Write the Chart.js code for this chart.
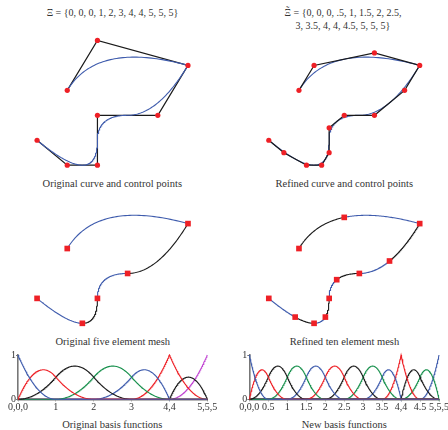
<!DOCTYPE html>
<html><head><meta charset="utf-8">
<script src="https://cdn.jsdelivr.net/npm/chart.js@4.4.1/dist/chart.umd.min.js"></script>
<style>
html,body{margin:0;padding:0;width:448px;height:430px;overflow:hidden;background:#fff;}
body{position:relative;font-family:'Liberation Serif','Times New Roman',serif;color:#333;}
canvas{position:absolute;}
.t{position:absolute;font-size:10.5px;text-align:center;white-space:nowrap;line-height:12.5px;transform:translate(-50%,-50%);}
.h{font-size:10px;}
.tx{position:relative;display:inline-block;}
.tx .tl{position:absolute;left:0;right:0;top:-2px;text-align:center;font-size:10px;}
</style></head><body>
<div class="t h" style="left:112.5px;top:13px">Ξ = {0, 0, 0, 1, 2, 3, 4, 4, 5, 5, 5}</div>
<div class="t h" style="left:343px;top:19px"><span class="tx">Ξ<span class="tl">˜</span></span> = {0, 0, 0, .5, 1, 1.5, 2, 2.5,<br>3, 3.5, 4, 4, 4.5, 5, 5, 5}</div>
<div class="t" style="left:112.3px;top:183.5px">Original curve and control points</div>
<div class="t" style="left:344.3px;top:183.5px">Refined curve and control points</div>
<div class="t" style="left:112.8px;top:341.7px">Original five element mesh</div>
<div class="t" style="left:344.5px;top:341.7px">Refined ten element mesh</div>
<div class="t" style="left:112.3px;top:425px">Original basis functions</div>
<div class="t" style="left:344.3px;top:425px">New basis functions</div>
<canvas id="c1"></canvas><canvas id="c2"></canvas>
<canvas id="c3"></canvas><canvas id="c4"></canvas>
<canvas id="c5"></canvas><canvas id="c6"></canvas>
<script>
// ---------- DATA ----------
const knots = [0, 0, 0, 1, 2, 3, 4, 4, 5, 5, 5];
const refinedKnots = [0, 0, 0, 0.5, 1, 1.5, 2, 2.5, 3, 3.5, 4, 4, 4.5, 5, 5, 5];
const ctrlX = [0, 1, 2, 2, 4, 5, 2, 1];
const ctrlY = [0.5, 0, 0, 1, 1, 2, 2.5, 1.5];
const refCtrlX = [0, 0.5, 1.25, 1.75, 2, 2, 2.5, 3.5, 4.5, 5, 3.5, 1.5, 1];
const refCtrlY = [0.5, 0.25, 0, 0, 0.25, 0.75, 1, 1, 1.5, 2, 2.25, 2, 1.5];
const origTickValues = [0, 1, 2, 3, 4, 5];
const origTickLabels = ['0,0,0', '1', '2', '3', '4,4', '5,5,5'];
const newTickValues = [0, 0.5, 1, 1.5, 2, 2.5, 3, 3.5, 4, 4.5, 5];
const newTickLabels = ['0,0,0', '0.5', '1', '1.5', '2', '2.5', '3', '3.5', '4,4', '4.5', '5,5,5'];
const degree = 2;

// ---------- STYLE ----------
const BLUE = '#3f5cad', RED = '#ee2026', BLACK = '#1a1a1a', GREEN = '#17904c', MAG = '#c043d2';
const origBasisColors = [BLUE, RED, BLACK, GREEN, BLUE, RED, BLACK, MAG];
const newBasisColors = [BLUE, RED, BLACK, GREEN, BLUE, RED, BLACK, GREEN, BLUE, RED, BLACK, GREEN, BLUE];
const FONT = "'Liberation Serif','Times New Roman',serif";

// ---------- B-spline evaluation (Cox-de Boor) ----------
function N(U, p, i, u) {
  if (p === 0) {
    const last = U[U.length - 1];
    if (u >= U[i] && u < U[i + 1]) return 1;
    if (u === last && U[i] < U[i + 1] && U[i + 1] === last) return 1;
    return 0;
  }
  let a = 0, b = 0;
  const d1 = U[i + p] - U[i];
  if (d1 > 0) a = (u - U[i]) / d1 * N(U, p - 1, i, u);
  const d2 = U[i + p + 1] - U[i + 1];
  if (d2 > 0) b = (U[i + p + 1] - u) / d2 * N(U, p - 1, i + 1, u);
  return a + b;
}
function curvePoint(U, cx, cy, u) {
  let x = 0, y = 0;
  for (let i = 0; i < cx.length; i++) { const w = N(U, degree, i, u); x += w * cx[i]; y += w * cy[i]; }
  return { x, y };
}
function params(a, b, n) { const r = []; for (let k = 0; k <= n; k++) r.push(a + (b - a) * k / n); return r; }
function curveData(U, cx, cy, a, b, n) { return params(a, b, n).map(u => curvePoint(U, cx, cy, u)); }
function uniq(U) { return U.filter((v, i) => i === 0 || v !== U[i - 1]); }

// ---------- placement helpers ----------
function place(id, L, T, W, H) {
  const c = document.getElementById(id);
  c.width = W; c.height = H; c.style.left = L + 'px'; c.style.top = T + 'px';
  return c;
}
const baseOpts = { responsive: false, maintainAspectRatio: false, animation: false, events: [],
  plugins: { legend: { display: false }, tooltip: { enabled: false } } };

function geoChart(id, L, T, W, H, x0, y0, sx, sy, datasets) {
  const c = place(id, L, T, W, H);
  return new Chart(c, { type: 'scatter', data: { datasets },
    options: Object.assign({}, baseOpts, { layout: { padding: 0 },
      scales: {
        x: { type: 'linear', display: false, min: (L - x0) / sx, max: (L + W - x0) / sx },
        y: { type: 'linear', display: false, min: (y0 - (T + H)) / sy, max: (y0 - T) / sy }
      } }) });
}
const lineDs = (data, color, w) => ({ data, showLine: true, borderColor: color, borderWidth: w, pointRadius: 0, fill: false, tension: 0, clip: false });
const dotDs = (data, style, r) => ({ data, showLine: false, pointStyle: style, pointRadius: r, pointBackgroundColor: RED, pointBorderWidth: 0, borderWidth: 0, clip: false });
const zip = (xs, ys) => xs.map((x, i) => ({ x, y: ys[i] }));

const SX = 31.3, SY = 52.7;
// top-left: original curve and control points
geoChart('c1', 0, 28, 224, 150, 34.3, 168.7, SX, SY, [
  dotDs(zip(ctrlX, ctrlY), 'circle', 2.6),
  lineDs(curveData(knots, ctrlX, ctrlY, 0, 5, 300), BLUE, 1.1),
  lineDs(zip(ctrlX, ctrlY), BLACK, 1.2)
]);
// top-right: refined
geoChart('c2', 224, 28, 224, 150, 266.3, 168.7, SX, SY, [
  dotDs(zip(refCtrlX, refCtrlY), 'circle', 2.6),
  lineDs(zip(refCtrlX, refCtrlY), BLACK, 1.2),
  lineDs(curveData(refinedKnots, refCtrlX, refCtrlY, 0, 5, 300), BLUE, 1.1)
]);
// meshes
function meshSets(U, cx, cy) {
  const br = uniq(U);
  const sets = [dotDs(br.map(u => curvePoint(U, cx, cy, u)), 'rect', 4)];
  for (let e = 0; e < br.length - 1; e++)
    sets.push(lineDs(curveData(U, cx, cy, br[e], br[e + 1], 60), e % 2 === 0 ? BLUE : BLACK, 1.1));
  return sets;
}
geoChart('c3', 0, 190, 224, 148, 34.3, 326.7, SX, SY, meshSets(knots, ctrlX, ctrlY));
geoChart('c4', 224, 190, 224, 148, 266.3, 326.7, SX, SY, meshSets(refinedKnots, refCtrlX, refCtrlY));

// basis function panels
function basisChart(id, L, T, W, H, axisLeftPx, rightPx, U, colors, tickVals, tickLabels) {
  const c = place(id, L, T, W, H);
  const n = U.length - degree - 1;
  const datasets = [];
  const us = params(0, 5, 400);
  for (let i = 0; i < n; i++)
    datasets.push(lineDs(us.map(u => ({ x: u, y: N(U, degree, i, u) })), colors[i], 1.1));
  const tickFont = { family: FONT, size: 10 };
  const grid = { drawOnChartArea: false, drawTicks: true, tickLength: 2, color: '#777', lineWidth: 1 };
  const border = { display: true, color: '#777', width: 1.6 };
  const top = 355, bottom = 399.3;
  return new Chart(c, { type: 'scatter', data: { datasets },
    options: Object.assign({}, baseOpts, {
      layout: { padding: { top: top - T, right: L + W - rightPx, left: 0, bottom: 0 } },
      scales: {
        x: { type: 'linear', min: 0, max: 5,
          afterBuildTicks: s => { s.ticks = tickVals.map(v => ({ value: v })); },
          afterFit: s => { s.height = T + H - bottom; },
          ticks: { autoSkip: false, maxRotation: 0, minRotation: 0, padding: 0, font: tickFont, color: '#333',
            callback: (v, i) => tickLabels[i] },
          grid, border },
        y: { type: 'linear', min: 0, max: 1,
          afterBuildTicks: s => { s.ticks = [{ value: 0 }, { value: 1 }]; },
          afterFit: s => { s.width = axisLeftPx - L; },
          ticks: { padding: 0, font: tickFont, color: '#333', callback: v => String(v) },
          grid, border }
      } }) });
}
basisChart('c5', 0, 348, 224, 66, 18, 207.3, knots, origBasisColors, origTickValues, origTickLabels);
basisChart('c6', 224, 348, 232, 66, 249.3, 439, refinedKnots, newBasisColors, newTickValues, newTickLabels);
</script>
</body></html>
